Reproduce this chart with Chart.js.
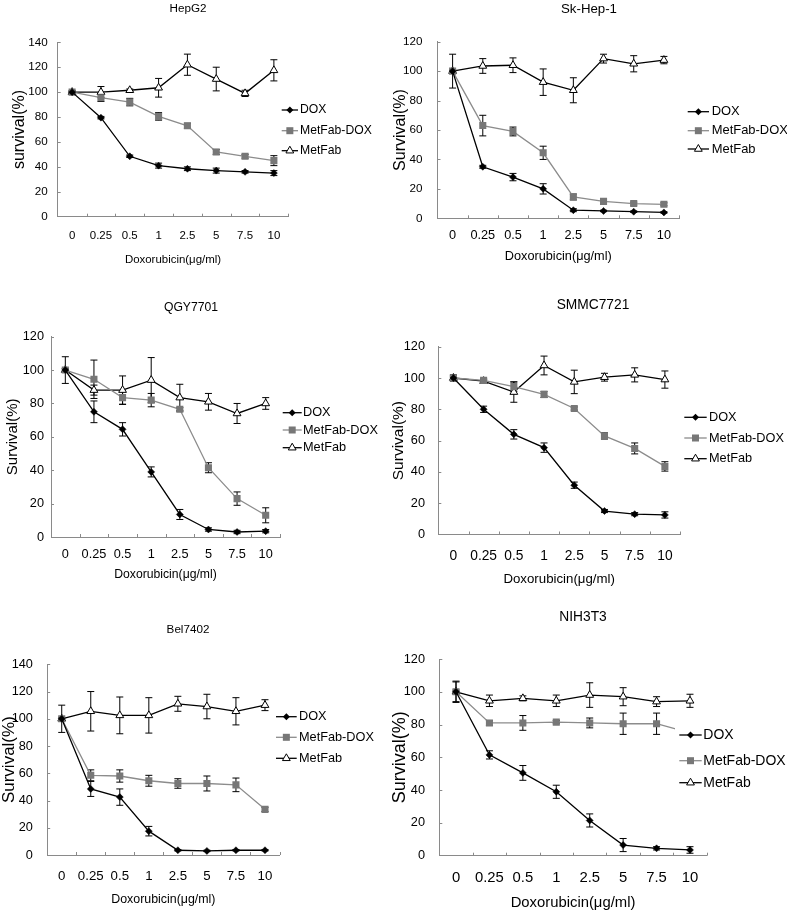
<!DOCTYPE html>
<html>
<head>
<meta charset="utf-8">
<title>Survival curves</title>
<script src="https://cdn.jsdelivr.net/npm/chart.js@4.4.1/dist/chart.umd.min.js"></script>
<style>
    html, body { margin: 0; padding: 0; background: #ffffff; }
    body { width: 787px; height: 913px; position: relative; overflow: hidden; }
    .panel { position: absolute; }
</style>
</head>
<body>
<script>
// ============================================================================
// DADOS
// ============================================================================
const DOSES = ['0', '0.25', '0.5', '1', '2.5', '5', '7.5', '10'];
const SERIES_NAMES = ['DOX', 'MetFab-DOX', 'MetFab'];

// HepG2
const hepDox = [100, 79.5, 48.5, 41, 38.5, 37, 36, 35];
const hepDoxErr = [0.5, 1, 1, 2, 1.5, 2, 1, 2];
const hepMfDox = [100, 95.5, 92, 80.5, 73, 52, 48.5, 45];
const hepMfDoxErr = [1, 3, 3, 3, 2, 2, 1.5, 4];
const hepMf = [100, 100, 101.5, 103.5, 122, 110.5, 99, 117.5];
const hepMfErr = [1, 4.5, 1, 7.5, 8.5, 9.5, 2.5, 8.5];

// Sk-Hep-1
const skDox = [100, 35, 28, 20, 5.5, 5, 4.5, 4];
const skDoxErr = [0.5, 1, 2.5, 3.5, 1, 0.5, 0.5, 0.5];
const skMfDox = [100, 63, 59, 44.5, 14.5, 11.5, 10, 9.5];
const skMfDoxErr = [1, 7, 3, 4.5, 2, 1, 1, 1];
const skMf = [100, 103.5, 104, 92.5, 87, 108.5, 105, 107.5];
const skMfErr = [11.5, 5, 5, 9, 8.5, 3, 5.5, 2.5];

// QGY7701
const qgyDox = [100, 75, 64.5, 39, 13.5, 4.5, 3, 3.5];
const qgyDoxErr = [1, 6.5, 4, 3, 3, 1, 1, 1];
const qgyMfDox = [100, 94.5, 83.5, 82, 76.5, 41.5, 23, 13];
const qgyMfDoxErr = [1, 11.5, 4, 4, 1, 3, 4, 4.5];
const qgyMf = [100, 88, 88, 94, 83.5, 81, 74, 80];
const qgyMfErr = [8, 3, 8.5, 13.5, 8, 5, 6, 3.5];

// SMMC7721
const smDox = [100, 80, 64, 55.5, 31.5, 15, 13, 12.5];
const smDoxErr = [1.5, 2, 3, 3, 2, 1, 1, 2];
const smMfDox = [100, 98.5, 94.5, 89.5, 80.5, 63, 55, 43.5];
const smMfDoxErr = [1, 1, 3, 2, 1, 2, 3.5, 3];
const smMf = [100, 98, 91, 108, 97.5, 100.5, 102, 99];
const smMfErr = [2, 1, 6.5, 6, 7.5, 2.5, 4.5, 5.5];

// Bel7402
const belDox = [100, 48.5, 42.5, 17.5, 3.5, 3, 3.5, 3.5];
const belDoxErr = [1, 5.5, 6, 3.5, 0.5, 0.5, 0.5, 0.5];
const belMfDox = [100, 58.5, 58, 54.5, 52.5, 52.5, 51.5, 33.5];
const belMfDoxErr = [1, 4, 4.5, 4, 3.5, 5.5, 5, 1.5];
const belMf = [100, 105.5, 102.5, 102.5, 111, 109, 105.5, 110];
const belMfErr = [10, 14.5, 13.5, 13, 5.5, 9, 10, 4];

// NIH3T3 (o último ponto de MetFab-DOX fica atrás da legenda)
const nihDox = [100, 61.5, 50.5, 39, 21.5, 6.5, 4.5, 3.5];
const nihDoxErr = [1, 2.5, 4.5, 4, 4, 4, 1, 2];
const nihMfDox = [100, 81, 81, 81.5, 81, 80.5, 80.5, 75];
const nihMfDoxErr = [6, 1.5, 4.5, 1, 3, 6.5, 6.5, 3];
const nihMf = [100, 94.5, 96, 94.5, 98, 97, 94, 94.5];
const nihMfErr = [6.5, 3.5, 1.5, 3.5, 7.5, 5.5, 3, 4];

// ============================================================================
// ESTILO
// ============================================================================
const FONT = "'Liberation Sans', Arial, sans-serif";
const AXIS = '#8a8a8a';
const GRAY_LINE = '#8c8c8c';
const GRAY_MARK = '#777777';
const HS = 1.06;   // fator de tamanho do texto horizontal

Chart.defaults.font.family = FONT;
Chart.defaults.color = '#000000';

const STYLES = [
    { borderColor: '#000000', pointStyle: 'rectRot', pointRadius: 3.5, pointBackgroundColor: '#000000', pointBorderColor: '#000000', pointBorderWidth: 0.5 },
    { borderColor: GRAY_LINE, pointStyle: 'rect', pointRadius: 5, pointBackgroundColor: GRAY_MARK, pointBorderColor: GRAY_MARK, pointBorderWidth: 0 },
    { borderColor: '#000000', pointStyle: 'triangle', pointRadius: 4.5, pointBackgroundColor: '#ffffff', pointBorderColor: '#000000', pointBorderWidth: 1 }
];

// Posições em coordenadas da página (box = área do canvas, area = área do gráfico)
const PANELS = [
    {
        name: 'HepG2', box: [0, 0, 390, 290], area: [57.7, 42.3, 288.3, 216.7], yMax: 140, yLabel: 'survival(%)',
        series: [hepDox, hepMfDox, hepMf], errors: [hepDoxErr, hepMfDoxErr, hepMfErr],
        title: [188, 9, 11], yTitle: [20, 16], yTick: [11, 10], xTick: [10.8, 236], xTitle: [260, 10.8],
        legend: { rows: [110, 130.7, 150.7], line: [281.7, 298], text: 300, size: 11.5 }
    },
    {
        name: 'Sk-Hep-1', box: [390, 0, 397, 290], area: [437.5, 41.7, 679, 218.3], yMax: 120, yLabel: 'Survival(%)',
        series: [skDox, skMfDox, skMf], errors: [skDoxErr, skMfDoxErr, skMfErr],
        title: [589, 9, 12.5], yTitle: [401, 16], yTick: [11, 15], xTick: [12, 235.7], xTitle: [256, 12],
        legend: { rows: [111.7, 130.7, 149], line: [687.7, 709], text: 711.7, size: 12.2 }
    },
    {
        name: 'QGY7701', box: [0, 290, 390, 310], area: [51, 336.7, 280, 537], yMax: 120, yLabel: 'Survival(%)',
        series: [qgyDox, qgyMfDox, qgyMf], errors: [qgyDoxErr, qgyMfDoxErr, qgyMfErr],
        title: [191, 308, 11.5], yTitle: [13, 15], yTick: [12, 7], xTick: [12, 554], xTitle: [574.3, 11.5],
        legend: { rows: [412.7, 430, 447.7], line: [282.7, 301.7], text: 303, size: 12 }
    },
    {
        name: 'SMMC7721', box: [390, 290, 397, 310], area: [438.3, 346.7, 680, 534.5], yMax: 120, yLabel: 'Survival(%)',
        series: [smDox, smMfDox, smMf], errors: [smDoxErr, smMfDoxErr, smMfErr],
        title: [593, 305, 13], yTitle: [397, 15.5], yTick: [12, 13.3], xTick: [13, 556.7], xTitle: [579.3, 12.5],
        legend: { rows: [417.3, 438, 458.7], line: [684.3, 706.7], text: 709, size: 12 }
    },
    {
        name: 'Bel7402', box: [0, 600, 390, 313], area: [47.2, 664.3, 279.5, 855], yMax: 140, yLabel: 'Survival(%)',
        series: [belDox, belMfDox, belMf], errors: [belDoxErr, belMfDoxErr, belMfErr],
        title: [188, 630, 11], yTitle: [9, 17], yTick: [12, 14.3], xTick: [12.5, 876.7], xTitle: [899.3, 11.7],
        legend: { rows: [716.7, 737.3, 758.3], line: [276, 296.7], text: 299, size: 12 }
    },
    {
        name: 'NIH3T3', box: [390, 600, 397, 313], area: [439.3, 659, 706.7, 855.7], yMax: 120, yLabel: 'Survival(%)',
        series: [nihDox, nihMfDox, nihMf], errors: [nihDoxErr, nihMfDoxErr, nihMfErr],
        title: [583, 617.3, 13], yTitle: [400, 18], yTick: [12, 14.3], xTick: [14, 878.3], xTitle: [903.3, 14],
        legend: { rows: [735, 760.7, 782.7], line: [679.3, 701.7], text: 703.3, size: 13.2, bg: [675, 722, 112, 75] }
    }
];

// ============================================================================
// PLUGIN: barras de erro, marcas dos eixos, título e legenda
// ============================================================================
function drawMarker(ctx, kind, x, y) {
    ctx.save();
    ctx.beginPath();
    if (kind === 0) {
        const r = 3.5;
        ctx.moveTo(x, y - r); ctx.lineTo(x + r, y); ctx.lineTo(x, y + r); ctx.lineTo(x - r, y);
        ctx.closePath();
        ctx.fillStyle = '#000000';
        ctx.fill();
    } else if (kind === 1) {
        ctx.fillStyle = GRAY_MARK;
        ctx.fillRect(x - 3.5, y - 3.5, 7, 7);
    } else {
        const r = 4.5;
        ctx.moveTo(x, y - r); ctx.lineTo(x + r * 0.866, y + r * 0.5); ctx.lineTo(x - r * 0.866, y + r * 0.5);
        ctx.closePath();
        ctx.fillStyle = '#ffffff';
        ctx.fill();
        ctx.lineWidth = 1;
        ctx.strokeStyle = '#000000';
        ctx.stroke();
    }
    ctx.restore();
}

const panelDeco = {
    id: 'panelDeco',
    beforeDatasetsDraw(chart) {
        const ctx = chart.ctx;
        const ys = chart.scales.y;
        ctx.save();
        ctx.strokeStyle = '#000000';
        ctx.lineWidth = 1;
        chart.data.datasets.forEach((ds, i) => {
            const meta = chart.getDatasetMeta(i);
            meta.data.forEach((pt, j) => {
                const e = ds.errors[j];
                if (!e) return;
                const y1 = ys.getPixelForValue(ds.data[j] + e);
                const y2 = ys.getPixelForValue(ds.data[j] - e);
                ctx.beginPath();
                ctx.moveTo(pt.x, y1); ctx.lineTo(pt.x, y2);
                ctx.moveTo(pt.x - 3.5, y1); ctx.lineTo(pt.x + 3.5, y1);
                ctx.moveTo(pt.x - 3.5, y2); ctx.lineTo(pt.x + 3.5, y2);
                ctx.stroke();
            });
        });
        ctx.restore();
    },
    afterDraw(chart, args, o) {
        if (!o || !o.box) return;
        const ctx = chart.ctx;
        const { left, right, bottom } = chart.chartArea;
        const ys = chart.scales.y;
        const bx = o.box[0], by = o.box[1];

        // marcas internas dos eixos
        ctx.save();
        ctx.strokeStyle = AXIS;
        ctx.lineWidth = 1;
        ctx.beginPath();
        const n = DOSES.length;
        const w = (right - left) / n;
        for (let i = 1; i <= n; i++) {
            const x = Math.round(left + i * w) + 0.5;
            ctx.moveTo(x, bottom); ctx.lineTo(x, bottom - 3);
        }
        for (let v = 20; v <= o.yMax; v += 20) {
            const y = Math.round(ys.getPixelForValue(v)) + 0.5;
            ctx.moveTo(left, y); ctx.lineTo(left + 3, y);
        }
        ctx.stroke();
        ctx.restore();

        // título do painel
        ctx.save();
        ctx.fillStyle = '#000000';
        ctx.textAlign = 'center';
        ctx.textBaseline = 'middle';
        ctx.font = (o.title[2] * HS) + 'px ' + FONT;
        ctx.fillText(o.name, o.title[0] - bx, o.title[1] - by);
        ctx.restore();

        // legenda
        const lg = o.legend;
        ctx.save();
        if (lg.bg) {
            ctx.fillStyle = '#ffffff';
            ctx.fillRect(lg.bg[0] - bx, lg.bg[1] - by, lg.bg[2], lg.bg[3]);
        }
        SERIES_NAMES.forEach((name, i) => {
            const y = lg.rows[i] - by;
            const x1 = lg.line[0] - bx, x2 = lg.line[1] - bx;
            ctx.beginPath();
            ctx.strokeStyle = STYLES[i].borderColor;
            ctx.lineWidth = 1.3;
            ctx.moveTo(x1, y); ctx.lineTo(x2, y);
            ctx.stroke();
            drawMarker(ctx, i, (x1 + x2) / 2, y);
            ctx.fillStyle = '#000000';
            ctx.textAlign = 'left';
            ctx.textBaseline = 'middle';
            ctx.font = (lg.size * HS) + 'px ' + FONT;
            ctx.fillText(name, lg.text - bx, y);
        });
        ctx.restore();
    }
};
Chart.register(panelDeco);

// ============================================================================
// RENDERIZAÇÃO
// ============================================================================
function renderPanel(p) {
    const [bx, by, bw, bh] = p.box;
    const [L, T, R, B] = p.area;

    const div = document.createElement('div');
    div.className = 'panel';
    div.style.left = bx + 'px';
    div.style.top = by + 'px';
    div.style.width = bw + 'px';
    div.style.height = bh + 'px';
    const canvas = document.createElement('canvas');
    div.appendChild(canvas);
    document.body.appendChild(div);

    const padLeft = 1;
    const yTitleSize = p.yTitle[1];
    const yTitlePad = Math.max(0, p.yTitle[0] - bx - padLeft - yTitleSize / 2);
    const yW = L - bx - padLeft;
    const xTitleSize = p.xTitle[1] * HS;
    const xH = p.xTitle[0] + xTitleSize * 0.6 - B;
    const padBottom = Math.max(0, by + bh - B - xH);
    const xTickSize = p.xTick[0] * HS;

    new Chart(canvas, {
        type: 'line',
        data: {
            labels: DOSES,
            datasets: SERIES_NAMES.map((name, i) => Object.assign({
                label: name,
                data: p.series[i],
                errors: p.errors[i],
                borderWidth: 1.3,
                fill: false,
                tension: 0
            }, STYLES[i]))
        },
        options: {
            responsive: true,
            maintainAspectRatio: false,
            animation: false,
            layout: { padding: { left: padLeft, top: T - by, right: bx + bw - R, bottom: padBottom } },
            plugins: {
                legend: { display: false },
                title: { display: false },
                tooltip: { enabled: false },
                panelDeco: { box: p.box, name: p.name, title: p.title, legend: p.legend, yMax: p.yMax }
            },
            scales: {
                x: {
                    type: 'category',
                    offset: true,
                    grid: { display: false, drawTicks: false },
                    border: { color: AXIS, width: 1 },
                    ticks: {
                        color: '#000000',
                        font: { family: FONT, size: xTickSize },
                        padding: p.xTick[1] - B - xTickSize * 0.6,
                        maxRotation: 0,
                        autoSkip: false
                    },
                    title: {
                        display: true,
                        text: 'Doxorubicin(μg/ml)',
                        color: '#000000',
                        font: { family: FONT, size: xTitleSize, lineHeight: 1.2 },
                        padding: 0
                    },
                    afterFit: s => { s.height = xH; }
                },
                y: {
                    min: 0,
                    max: p.yMax,
                    grid: { display: false, drawTicks: false },
                    border: { color: AXIS, width: 1 },
                    ticks: {
                        stepSize: 20,
                        color: '#000000',
                        font: { family: FONT, size: p.yTick[0] * HS },
                        padding: p.yTick[1]
                    },
                    title: {
                        display: true,
                        text: p.yLabel,
                        color: '#000000',
                        font: { family: FONT, size: yTitleSize, lineHeight: 1 },
                        padding: { top: yTitlePad, bottom: 0 }
                    },
                    afterFit: s => { s.width = yW; }
                }
            }
        }
    });
}

PANELS.forEach(renderPanel);
</script>
</body>
</html>
